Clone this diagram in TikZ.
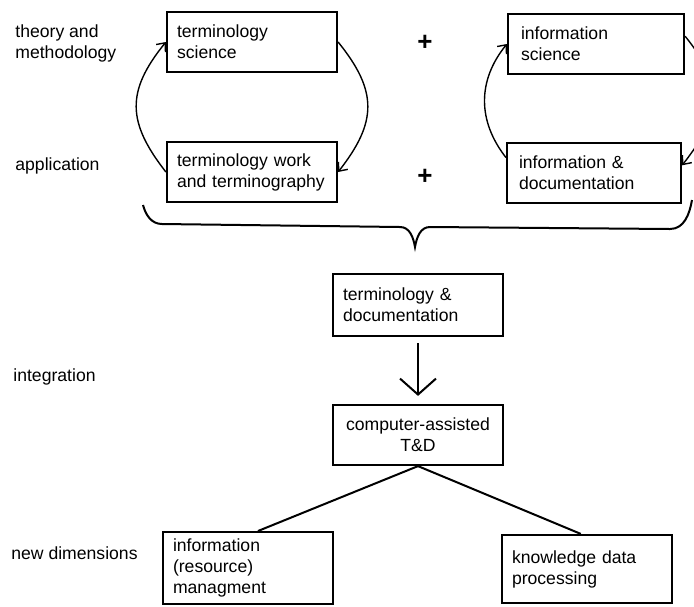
\documentclass[tikz,border=0pt]{standalone}
\usepackage{fontspec}
\setmainfont{Liberation Sans}
\usetikzlibrary{arrows.meta}

\tikzset{
  stage/.style={draw, line width=1.1pt, minimum width=85pt, minimum height=30pt,
    text width=75pt, align=left, font=\fontsize{8.8}{10.5}\selectfont},
  rowlabel/.style={anchor=west, align=left, inner sep=0pt, font=\fontsize{8.8}{10.5}\selectfont},
  plussign/.style={font=\bfseries\fontsize{13}{13}\selectfont},
  roundtrip/.style={line width=0.7pt, -{Straight Barb[length=3.5pt,width=6pt]}, looseness=1.25}
}

\begin{document}
\begin{tikzpicture}[x=0.5pt,y=0.5pt]
      \useasboundingbox (0,0) rectangle (694,-606);
      \draw
        (15,-43) node[rowlabel] (l1){theory and\\methodology}
        (15,-166) node[rowlabel] (l2){application}
        (13,-377) node[rowlabel] (l3){integration}
        (11,-553) node[rowlabel] (l4){new dimensions}
        (252,-42) node[stage] (ts){terminology\\science}
        (252,-172) node[stage] (tw){terminology work\\and terminography}
        (596,-44) node[stage, minimum width=88pt] (is){information\\science}
        (594,-173) node[stage, minimum width=87pt] (id){information \&\\documentation}
        (425,-43) node[plussign] (p1){+}
        (425,-177) node[plussign] (p2){+}
        (418,-305) node[stage, minimum height=31pt] (td){terminology \&\\documentation}
        (418,-435) node[stage, align=center] (cat){computer-assisted\\T\&D}
        (248,-568) node[stage, minimum height=35pt] (irm){information\\(resource)\\managment}
        (587,-569) node[stage, minimum height=34pt] (kdp){knowledge data\\processing};
      % the two cycles
      \begin{scope}[roundtrip]
        \draw (tw.west) to[out=128,in=231] (ts.west);
        \draw (ts.east) to[out=-51,in=52] (tw.east);
        \draw[looseness=1.05] (id.170) to[out=128,in=231] (is.west);
        \draw (is.5) to[out=-51,in=52] (id.5);
      \end{scope}
      % brace
      \draw[line width=1pt] (143,-205) to[out=-75,in=180] (162,-224) -- (400,-227)
        to[out=0,in=100] (415,-247) to[out=80,in=180] (430,-227) -- (670,-229)
        to[out=0,in=-100] (692,-200);
      \begin{scope}[line width=1pt]
        \draw[-{Straight Barb[length=8pt,width=18pt]}, shorten <=3pt, shorten >=4pt] (td) -- (cat);
        \draw (cat.south) -- (irm.75);
        \draw (cat.south) -- (kdp.100);
      \end{scope}
    \end{tikzpicture}
\end{document}
